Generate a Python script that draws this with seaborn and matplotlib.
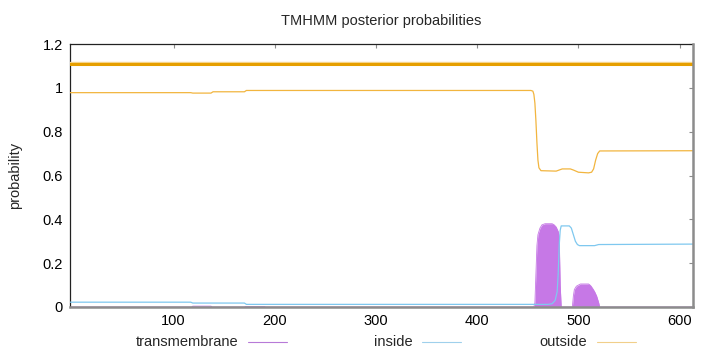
import matplotlib
matplotlib.use("Agg")
import matplotlib.pyplot as plt
import seaborn as sns
import pandas as pd
from matplotlib.lines import Line2D

# ---- data ----
res_inside = [-2, 117, 119, 170, 172, 470, 474, 477, 479, 480, 481, 482, 483, 491, 493, 495, 497, 499, 501, 516, 520, 613]
inside = [0.022, 0.022, 0.018, 0.018, 0.012, 0.012, 0.015, 0.03, 0.07, 0.15, 0.28, 0.35, 0.37, 0.37, 0.36, 0.33, 0.30, 0.285, 0.28, 0.28, 0.285, 0.287]

res_outside = [-2, 117, 119, 137, 139, 170, 172, 453, 455, 456, 457, 458, 459, 460, 461, 463, 478, 481, 484, 492, 495, 500, 510, 513, 515, 517, 519, 521, 613]
outside = [0.978, 0.978, 0.976, 0.976, 0.982, 0.982, 0.988, 0.988, 0.985, 0.97, 0.93, 0.85, 0.75, 0.67, 0.635, 0.622, 0.62, 0.625, 0.63, 0.63, 0.625, 0.615, 0.612, 0.615, 0.63, 0.67, 0.70, 0.712, 0.713]

res_tm = [-2, 118, 119, 137, 138, 170, 171, 190, 191, 456, 457, 458, 459, 460, 462, 464, 467, 474, 476, 478, 480, 481, 482, 483,
          494, 495, 496, 498, 500, 502, 510, 512, 514, 516, 518, 520, 521, 613]
tm = [0, 0, 0.004, 0.004, 0, 0, 0.002, 0.002, 0, 0, 0.02, 0.15, 0.28, 0.33, 0.36, 0.375, 0.38, 0.38, 0.375, 0.365, 0.345, 0.32, 0.1, 0,
      0, 0.05, 0.08, 0.095, 0.1, 0.105, 0.105, 0.098, 0.085, 0.07, 0.05, 0.02, 0, 0]

topology_level = 1.11          # predicted topology line (all outside)
x_ticks = [100, 200, 300, 400, 500, 600]
y_ticks = [0, 0.2, 0.4, 0.6, 0.8, 1.0, 1.2]
y_tick_labels = ["0", "0.2", "0.4", "0.6", "0.8", "1", "1.2"]
legend_labels = ["transmembrane", "inside", "outside"]

# ---- style ----
sns.set_theme(style="white")
plt.rcParams["font.family"] = ["Liberation Sans", "DejaVu Sans"]
plt.rcParams["font.size"] = 10.5
FS = 10.5

c_tm = "#c678e6"
c_in = "#7fc8ef"
c_out = "#f2b53f"
c_top = "#e69f00"
c_grey = "#8c8c8c"

W, H = 720, 352
fig = plt.figure(figsize=(W / 100, H / 100), dpi=100)
ax = fig.add_axes([70 / W, 1 - 307 / H, (693 - 70) / W, (307 - 44) / H])

df_tm = pd.DataFrame({"res": res_tm, "p": tm})
df_in = pd.DataFrame({"res": res_inside, "p": inside})
df_out = pd.DataFrame({"res": res_outside, "p": outside})

ax.fill_between(df_tm["res"], 0, df_tm["p"], color=c_tm, lw=0, zorder=2)
sns.lineplot(data=df_tm, x="res", y="p", ax=ax, color=c_tm, lw=0.6, estimator=None, sort=False, zorder=2)
sns.lineplot(data=df_in, x="res", y="p", ax=ax, color=c_in, lw=0.9, estimator=None, sort=False, zorder=3)
sns.lineplot(data=df_out, x="res", y="p", ax=ax, color=c_out, lw=0.9, estimator=None, sort=False, zorder=3)
ax.axhline(topology_level + 0.007, color="#f6d690", lw=1.0, zorder=3)
ax.axhline(topology_level, color=c_top, lw=2.2, zorder=4)

ax.set_xlim(-2.3, 613.2)
ax.set_ylim(0, 1.2)
ax.set_xticks(x_ticks)
ax.set_xticklabels([str(t) for t in x_ticks])
ax.set_yticks(y_ticks)
ax.set_yticklabels(y_tick_labels)
ax.set_xlabel("")
ax.set_ylabel("")
ax.tick_params(axis="both", which="both", direction="in", length=3, width=0.8,
               color=c_grey, labelsize=FS, labelcolor="black", top=True, right=True)
ax.tick_params(axis="x", pad=5)
ax.tick_params(axis="y", pad=5)

for side in ["left", "top"]:
    ax.spines[side].set_color("#222222")
    ax.spines[side].set_linewidth(0.9)
for side in ["right", "bottom"]:
    ax.spines[side].set_color(c_grey)
    ax.spines[side].set_linewidth(1.8)
    ax.spines[side].set_zorder(5)

fig.text(381 / W, 1 - 21 / H, "TMHMM posterior probabilities", ha="center", va="center", fontsize=FS)
fig.text(15 / W, 1 - 175 / H, "probability", ha="center", va="center", rotation=90, fontsize=FS)

# legend (gnuplot-style: text then line sample)
leg_text_right = [238, 413, 587]
leg_line_span = [(248, 287), (422, 461), (597, 636)]
leg_colors = ["#b77ad8", "#9fd0ec", "#f1cf8a"]
ly = 1 - 342 / H
for lab, xr, (x0, x1), col in zip(legend_labels, leg_text_right, leg_line_span, leg_colors):
    fig.text(xr / W, ly, lab, ha="right", va="center", fontsize=FS)
    fig.add_artist(Line2D([x0 / W, x1 / W], [ly, ly], color=col, lw=0.8, transform=fig.transFigure))

fig.savefig("out.png", dpi=100)
